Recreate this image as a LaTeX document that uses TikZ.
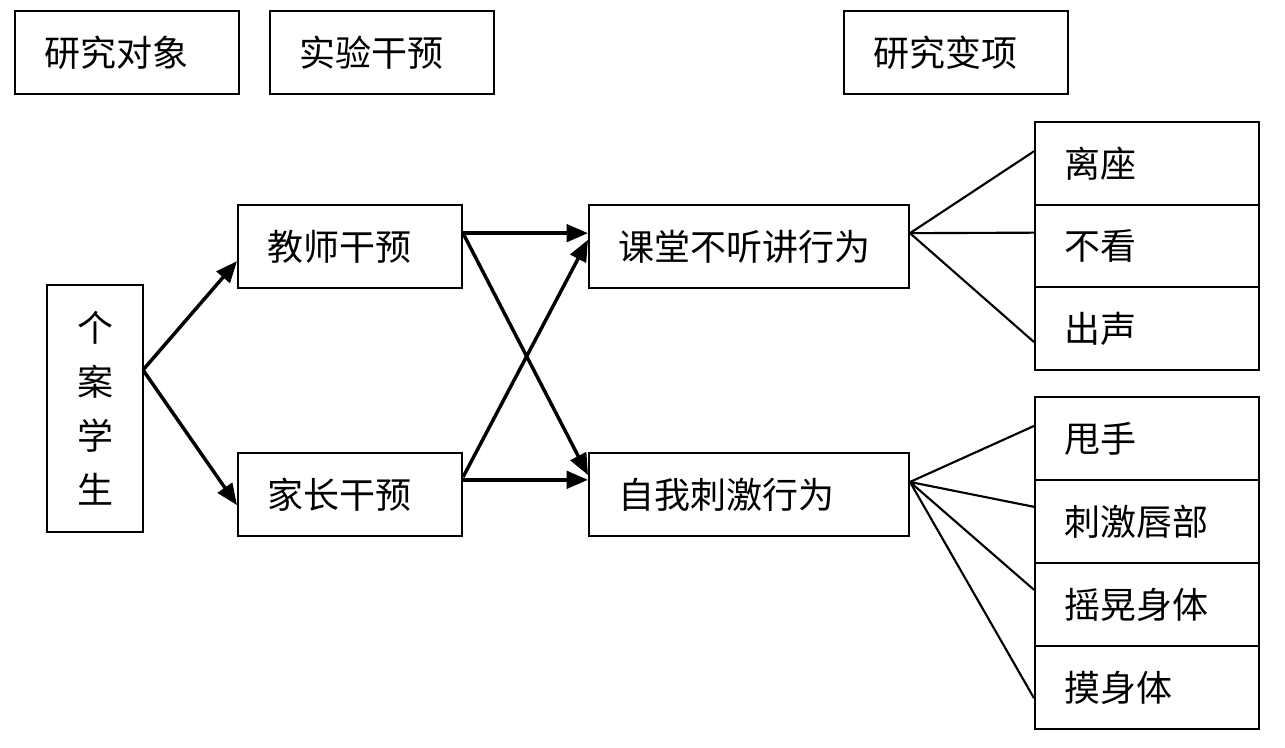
\documentclass[tikz,border=0pt]{standalone}
\usepackage{fontspec}
\setmainfont{Noto Sans CJK SC}
\usetikzlibrary{arrows.meta}
\tikzset{
  cell/.style={draw, line width=1.5pt, inner xsep=22pt, inner ysep=0pt, align=left,
    font=\fontsize{27}{32}\selectfont, minimum height=#1},
  cell/.default=62.25pt,
  w168/.style={text width=124pt},
  w240/.style={text width=196pt},
  arr/.style={line width=2.6pt, -{Triangle[length=16pt,width=13pt]}},
  fan/.style={line width=1.6pt}
}
\begin{document}
\begin{tikzpicture}[x=0.75pt,y=-0.75pt]
\useasboundingbox (0,0) rectangle (1285,748);
% headers
\node[cell, w168] (h1) at (127,52.5) {研究对象};
\node[cell, w168] (h2) at (382,52.5) {实验干预};
\node[cell, w168] (h3) at (956,52.5) {研究变项};
% case
\node[draw, line width=1.5pt, minimum width=72pt, minimum height=185.25pt, align=center,
  font=\fontsize{27}{40.5}\selectfont, inner sep=0pt] (case) at (95,408.5) {个\\案\\学\\生};
% interventions
\node[cell, w168] (t) at (350,246.5) {教师干预};
\node[cell, w168] (p) at (350,494.5) {家长干预};
% behaviours
\node[cell, w240] (k) at (749,246.5) {课堂不听讲行为};
\node[cell, w240] (z) at (749,494.5) {自我刺激行为};
% variables
\node[cell=62pt, w168] (r1) at (1147,163.3) {离座};
\node[cell=62pt, w168] (r2) at (1147,246) {不看};
\node[cell=62pt, w168] (r3) at (1147,328.7) {出声};
\node[cell, w168] (b1) at (1147,438.5) {甩手};
\node[cell, w168] (b2) at (1147,521.5) {刺激唇部};
\node[cell, w168] (b3) at (1147,604.5) {摇晃身体};
\node[cell, w168] (b4) at (1147,687.5) {摸身体};
% arrows
\coordinate (co) at (143,370);
\draw[arr] (co) -- ([yshift=-11pt]t.west);
\draw[arr] (co) -- ([yshift=-8pt]p.west);
\draw[arr] ([yshift=10pt]t.east) -- ([yshift=10pt]k.west);
\draw[arr] ([yshift=10pt]t.east) -- ([yshift=14.6pt]z.west);
\draw[arr] ([yshift=13pt]p.east) -- ([yshift=5pt]k.west);
\draw[arr] ([yshift=11pt]p.east) -- ([yshift=11pt]z.west);
% fans
\draw[fan] ([yshift=10pt]k.east) -- ([yshift=9pt]r1.west);
\draw[fan] ([yshift=10pt]k.east) -- ([yshift=10pt]r2.west);
\draw[fan] ([yshift=10pt]k.east) -- ([yshift=-10pt]r3.west);
\draw[fan] ([yshift=9.4pt]z.east) -- ([yshift=9.4pt]b1.west);
\draw[fan] ([yshift=9.4pt]z.east) -- ([yshift=11pt]b2.west);
\draw[fan] ([yshift=9.4pt]z.east) -- ([yshift=11pt]b3.west);
\draw[fan] ([yshift=9.4pt]z.east) -- ([yshift=-8pt]b4.west);
\end{tikzpicture}
\end{document}
